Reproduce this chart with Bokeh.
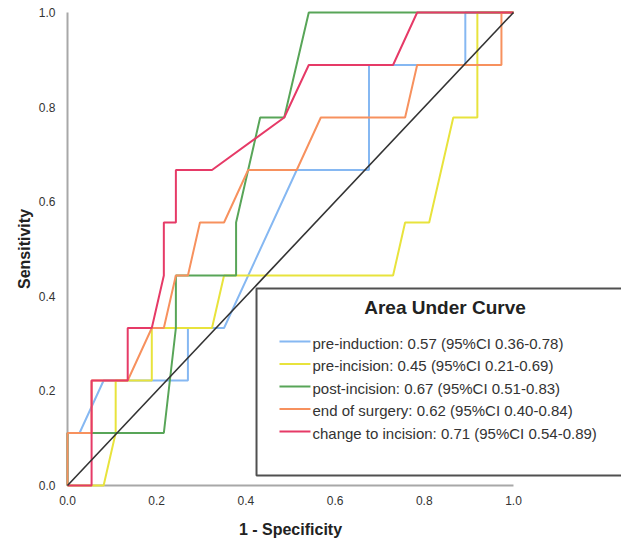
from bokeh.plotting import figure
from bokeh.models import Range1d, FixedTicker, PrintfTickFormatter, LinearAxis
from bokeh.core.properties import value
from bokeh.embed import file_html
from bokeh.resources import INLINE

# ---- data ----
x_ticks = [0.0, 0.2, 0.4, 0.6, 0.8, 1.0]
y_ticks = [0.0, 0.2, 0.4, 0.6, 0.8, 1.0]
x_title = "1 - Specificity"
y_title = "Sensitivity"
legend_title = "Area Under Curve"

series_names = [
    "pre-induction: 0.57 (95%CI 0.36-0.78)",
    "pre-incision: 0.45 (95%CI 0.21-0.69)",
    "post-incision: 0.67 (95%CI 0.51-0.83)",
    "end of surgery: 0.62 (95%CI 0.40-0.84)",
    "change to incision: 0.71 (95%CI 0.54-0.89)",
]

fpr_pre_induction = [0, 0, 0.027, 0.081, 0.270, 0.270, 0.351, 0.514, 0.676, 0.676, 0.892, 0.892, 1.0]
tpr_pre_induction = [0, 0.111, 0.111, 0.222, 0.222, 0.333, 0.333, 0.667, 0.667, 0.889, 0.889, 1.0, 1.0]

fpr_pre_incision = [0, 0.081, 0.108, 0.108, 0.189, 0.189, 0.324, 0.351, 0.730, 0.757, 0.811, 0.865, 0.919, 0.919, 1.0]
tpr_pre_incision = [0, 0, 0.111, 0.222, 0.222, 0.333, 0.333, 0.444, 0.444, 0.556, 0.556, 0.778, 0.778, 1.0, 1.0]

fpr_post_incision = [0, 0, 0.216, 0.243, 0.243, 0.378, 0.378, 0.432, 0.486, 0.541, 1.0]
tpr_post_incision = [0, 0.111, 0.111, 0.333, 0.444, 0.444, 0.556, 0.778, 0.778, 1.0, 1.0]

fpr_end_surgery = [0, 0, 0.054, 0.054, 0.135, 0.189, 0.216, 0.243, 0.270, 0.297, 0.351, 0.405, 0.514, 0.568, 0.757, 0.784, 0.973, 0.973, 1.0]
tpr_end_surgery = [0, 0.111, 0.111, 0.222, 0.222, 0.333, 0.333, 0.444, 0.444, 0.556, 0.556, 0.667, 0.667, 0.778, 0.778, 0.889, 0.889, 1.0, 1.0]

fpr_change = [0, 0.054, 0.054, 0.135, 0.135, 0.189, 0.216, 0.216, 0.243, 0.243, 0.324, 0.486, 0.541, 0.730, 0.784, 1.0]
tpr_change = [0, 0, 0.222, 0.222, 0.333, 0.333, 0.444, 0.556, 0.556, 0.667, 0.667, 0.778, 0.889, 0.889, 1.0, 1.0]

ref_x = [0, 1]
ref_y = [0, 1]

colors = ["#86b8f2", "#e8e33c", "#58a558", "#f7915e", "#e63a67"]

FONT = "Liberation Sans"

p = figure(width=621, height=541, output_backend="svg", toolbar_location=None,
           x_range=Range1d(-0.0045, 1.2422), y_range=Range1d(-0.0042, 1.0042),
           min_border_left=65, min_border_right=0, min_border_top=10, min_border_bottom=54)
p.outline_line_color = None
p.grid.visible = False
p.background_fill_color = "white"
p.border_fill_color = "white"

for ax in (p.xaxis[0], p.yaxis[0]):
    ax.axis_line_color = None
    ax.major_tick_line_color = None
    ax.minor_tick_line_color = None
    ax.major_tick_out = 0
    ax.major_tick_in = 0
    ax.major_label_text_font = FONT
    ax.major_label_text_font_size = "12px"
    ax.major_label_text_color = "#333333"
    ax.formatter = PrintfTickFormatter(format="%.1f")
p.xaxis.ticker = FixedTicker(ticks=x_ticks)
p.yaxis.ticker = FixedTicker(ticks=y_ticks)
p.xaxis.major_label_standoff = 8
p.yaxis.major_label_standoff = 10
p.yaxis.axis_label = y_title
p.yaxis.axis_label_text_font = FONT
p.yaxis.axis_label_text_font_style = "bold"
p.yaxis.axis_label_text_font_size = "16px"
p.yaxis.axis_label_text_color = "#222222"
p.yaxis.axis_label_standoff = 3

# x-axis title, centred under the 0..1 span of the axis
xt = LinearAxis(ticker=FixedTicker(ticks=[0.5]), major_label_overrides={0.5: x_title},
                axis_line_color=None, major_tick_line_color=None, minor_tick_line_color=None,
                major_tick_out=0, major_tick_in=0, major_label_standoff=13,
                major_label_text_font=FONT, major_label_text_font_style="bold",
                major_label_text_font_size="16px", major_label_text_color="#222222")
p.add_layout(xt, "below")

# axis lines (only over 0..1)
p.line([0, 1], [0, 0], line_color="#a8a8a8", line_width=2)
p.line([0, 0], [0, 1], line_color="#a8a8a8", line_width=2)

curves = [
    (fpr_pre_induction, tpr_pre_induction),
    (fpr_pre_incision, tpr_pre_incision),
    (fpr_post_incision, tpr_post_incision),
    (fpr_end_surgery, tpr_end_surgery),
    (fpr_change, tpr_change),
]
for (xs, ys), c in zip(curves, colors):
    p.line(xs, ys, line_color=c, line_width=2)

p.line(ref_x, ref_y, line_color="#333333", line_width=1.6)

# legend box
p.quad(left=[0.4238], right=[1.30], top=[0.4165], bottom=[0.0211],
       fill_color="white", line_color="#505050", line_width=2)
p.text(x=[0.8464], y=[0.3763], text=[legend_title], text_font=value(FONT),
       text_font_style="bold", text_font_size="19px", text_color="#222222",
       text_align="center", text_baseline="middle")
row_y = [0.3044, 0.2569, 0.2093, 0.1617, 0.1142]
for i, (name, c) in enumerate(zip(series_names, colors)):
    yy = row_y[i]
    p.line([0.4753, 0.5448], [yy, yy], line_color=c, line_width=2)
    p.text(x=[0.5493], y=[yy - 0.004], text=[name], text_font=value(FONT),
           text_font_size="15px", text_color="#333333",
           text_align="left", text_baseline="middle")

open("out.html", "w").write(file_html(p, INLINE))
